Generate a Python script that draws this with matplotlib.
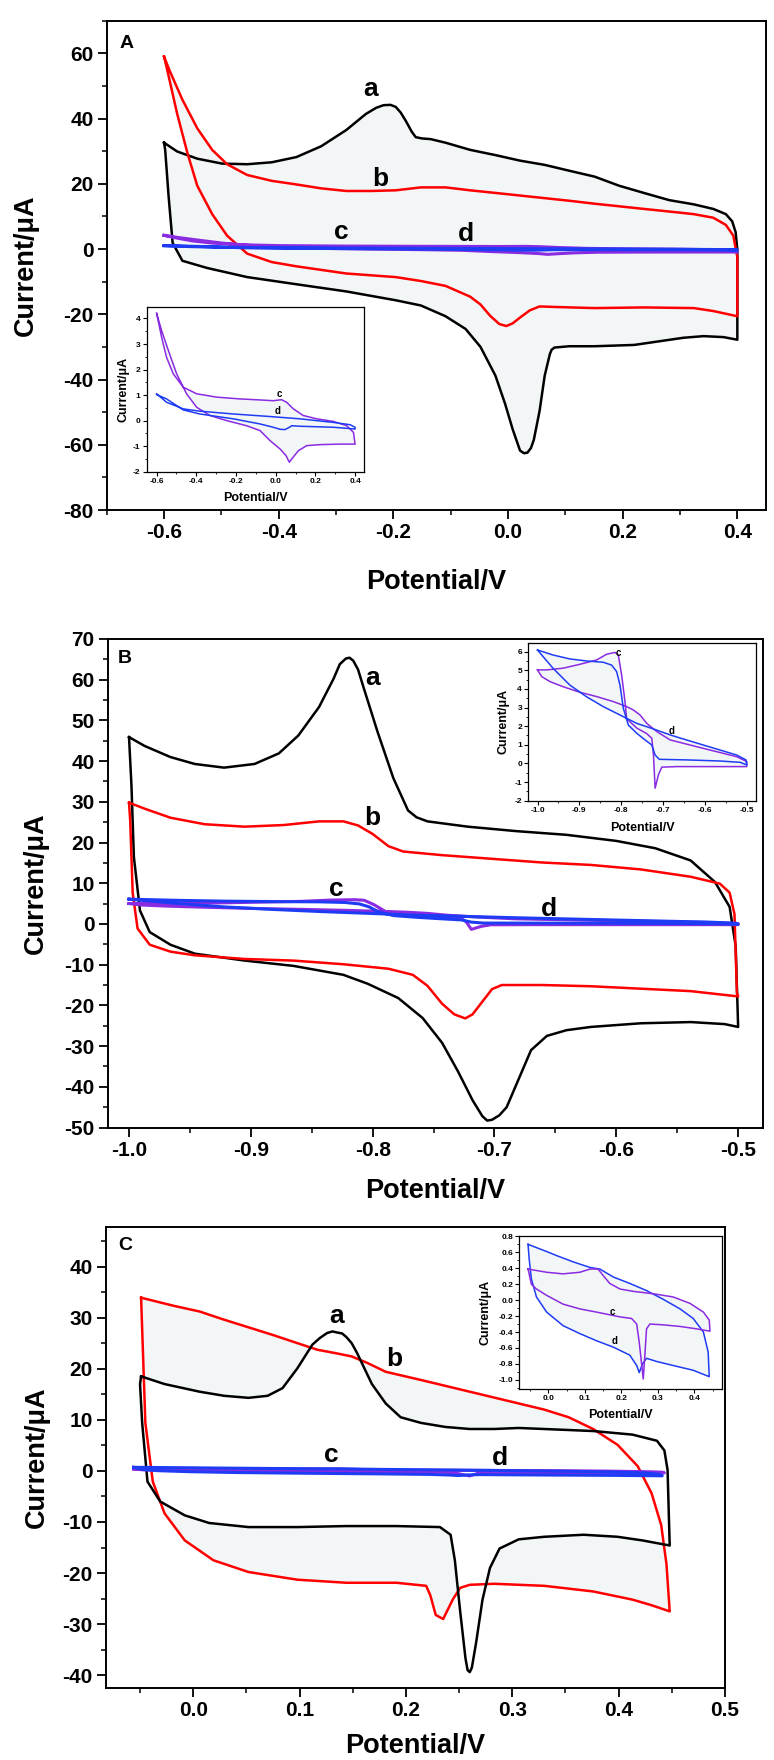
import matplotlib.pyplot as plt
from matplotlib.ticker import MultipleLocator, FuncFormatter

plt.rcParams['font.family'] = ['Liberation Sans', 'DejaVu Sans']
plt.rcParams['font.weight'] = 'bold'
plt.rcParams['axes.unicode_minus'] = False

# ---------------- Panel A (potential in V, current in uA) ----------------
A_a_E = [-0.600, -0.577, -0.542, -0.499, -0.455, -0.412, -0.369, -0.326, -0.282, -0.248,
         -0.230, -0.217, -0.205, -0.196, -0.187, -0.178, -0.168, -0.161, -0.150, -0.135,
         -0.109, -0.066, -0.022, 0.021, 0.064,
         0.107, 0.151, 0.194, 0.237, 0.281, 0.324, 0.358, 0.380, 0.391, 0.397, 0.400, 0.400,
         0.376, 0.341, 0.306, 0.263, 0.220, 0.151, 0.107, 0.081, 0.076, 0.073, 0.064, 0.055,
         0.045, 0.040, 0.034, 0.028, 0.021, 0.008, -0.005, -0.022, -0.048, -0.074, -0.109,
         -0.152, -0.196, -0.282, -0.369, -0.455, -0.525, -0.568, -0.585, -0.592, -0.598, -0.600]
A_a_I = [32.6, 29.9, 27.7, 26.2, 26.0, 26.6, 28.2, 31.5, 36.5, 41.4,
         43.3, 44.1, 44.2, 43.6, 41.8, 39.2, 36.0, 34.3, 33.9, 33.7,
         32.6, 30.4, 28.8, 27.1, 25.8,
         24.0, 22.2, 19.4, 17.2, 15.0, 13.7, 12.3, 10.7, 8.5, 5.2, -0.3, -27.8,
         -27.0, -26.7, -27.2, -28.3, -29.4, -29.8, -29.8, -30.2, -30.9, -32.2, -38.8, -49.7,
         -58.5, -61.0, -62.4, -62.6, -61.8, -55.2, -47.5, -38.8, -30.0, -24.5, -20.6,
         -17.3, -15.7, -13.0, -10.8, -8.6, -5.8, -3.6, 1.9, 16.1, 30.4, 32.6]

A_b_E = [-0.600, -0.590, -0.568, -0.542, -0.516, -0.490, -0.455, -0.412, -0.369, -0.326,
         -0.282, -0.239, -0.196, -0.152, -0.109, -0.066, -0.022, 0.021, 0.064, 0.107,
         0.151, 0.194, 0.237, 0.281, 0.324, 0.358, 0.380, 0.393, 0.400, 0.400,
         0.358, 0.324, 0.237, 0.151, 0.090, 0.055, 0.038, 0.021, 0.008, -0.003, -0.015,
         -0.031, -0.048, -0.066, -0.109, -0.152, -0.196, -0.282, -0.369, -0.412, -0.455,
         -0.490, -0.516, -0.542, -0.559, -0.577, -0.594, -0.600]
A_b_I = [59.0, 54.6, 45.8, 37.0, 30.4, 26.0, 22.7, 20.9, 19.8, 18.6,
         17.8, 17.8, 18.0, 18.9, 18.9, 18.0, 17.2, 16.4, 15.6, 14.8,
         13.9, 13.1, 12.3, 11.5, 10.7, 9.6, 7.4, 4.1, -2.5, -20.6,
         -19.0, -18.1, -17.9, -18.1, -17.8, -17.6, -18.8, -21.0, -22.8, -23.6, -23.0,
         -20.5, -17.0, -14.6, -11.3, -9.8, -8.6, -7.5, -5.3, -4.0, -1.4,
         4.1, 10.7, 19.4, 29.3, 41.4, 54.6, 59.0]

A_c_E = [-0.600, -0.575, -0.550, -0.516, -0.466, -0.398, -0.297, -0.180, -0.079, -0.012,
         0.030, 0.055, 0.089, 0.139, 0.207, 0.291, 0.358, 0.392, 0.400,
         0.324, 0.224, 0.156, 0.114, 0.081, 0.069, 0.052, 0.022, -0.029, -0.079, -0.146,
         -0.247, -0.331, -0.398, -0.449, -0.499, -0.541, -0.575, -0.600]
A_c_I = [4.20, 3.27, 2.48, 1.83, 1.31, 1.05, 0.92, 0.85, 0.81, 0.78,
         0.82, 0.72, 0.46, 0.20, 0.07, -0.03, -0.20, -0.46, -0.92,
         -0.92, -0.94, -0.98, -1.18, -1.50, -1.63, -1.37, -1.11, -0.78, -0.39, -0.20,
         0.00, 0.20, 0.52, 1.05, 1.83, 2.75, 3.53, 4.20]

A_d_E = [-0.600, -0.550, -0.466, -0.382, -0.213, -0.045, 0.123, 0.291, 0.375, 0.400,
         0.400, 0.358, 0.291, 0.207, 0.123, 0.081, 0.069, 0.047, 0.022, -0.012, -0.079,
         -0.213, -0.382, -0.466, -0.550, -0.600]
A_d_I = [1.05, 0.72, 0.46, 0.37, 0.26, 0.17, 0.07, -0.07, -0.16, -0.26,
         -0.33, -0.30, -0.26, -0.24, -0.22, -0.20, -0.26, -0.35, -0.34, -0.26, -0.13,
         0.07, 0.26, 0.42, 0.85, 1.02]

# ---------------- Panel B ----------------
B_a_E = [-1.000, -0.987, -0.966, -0.946, -0.922, -0.897, -0.877, -0.861, -0.844, -0.832,
         -0.827, -0.822, -0.819, -0.816, -0.812, -0.808, -0.796, -0.783, -0.771, -0.764,
         -0.755, -0.722, -0.682, -0.641,
         -0.600, -0.568, -0.539, -0.519, -0.507, -0.502, -0.500,
         -0.511, -0.539, -0.580, -0.621, -0.641, -0.657, -0.670, -0.680, -0.690, -0.696,
         -0.702, -0.706, -0.710, -0.718, -0.730, -0.743, -0.759, -0.779, -0.804, -0.824,
         -0.865, -0.905, -0.946, -0.966, -0.983, -0.991, -0.996, -0.998, -1.000]
B_a_I = [45.9, 43.7, 41.0, 39.3, 38.4, 39.3, 41.9, 46.3, 53.3, 60.3,
         63.8, 65.2, 65.4, 64.7, 62.5, 58.6, 47.2, 35.8, 27.9, 26.2,
         25.2, 23.9, 22.8, 21.9,
         20.4, 18.6, 15.6, 10.3, 4.2, -5.5, -25.3,
         -24.6, -24.1, -24.4, -25.3, -26.1, -27.5, -31.0, -38.0, -45.0, -47.0,
         -48.1, -48.3, -47.2, -43.3, -36.2, -29.2, -23.1, -18.2, -14.7, -12.5,
         -10.3, -9.0, -7.3, -5.1, -2.0, 3.3, 16.4, 34.0, 45.9]

B_b_E = [-1.000, -0.987, -0.966, -0.938, -0.905, -0.873, -0.844, -0.824, -0.812, -0.800,
         -0.787, -0.775, -0.743, -0.702, -0.661, -0.621, -0.580, -0.539, -0.515, -0.507,
         -0.503, -0.501, -0.500,
         -0.539, -0.580, -0.621, -0.661, -0.694, -0.702, -0.710, -0.718, -0.724, -0.733,
         -0.743, -0.755, -0.767, -0.787, -0.824, -0.865, -0.905, -0.946, -0.966, -0.983,
         -0.993, -0.997, -0.999, -1.000]
B_b_I = [29.8, 28.3, 26.1, 24.5, 23.9, 24.3, 25.2, 25.2, 24.2, 22.1,
         19.1, 17.8, 16.9, 16.0, 15.1, 14.5, 13.4, 11.6, 9.9, 7.7,
         2.4, -16.9, -17.8,
         -16.5, -15.9, -15.3, -15.0, -15.0, -16.0, -19.1, -22.2, -23.2, -22.2,
         -19.6, -15.2, -12.5, -11.0, -9.9, -9.0, -8.6, -7.7, -6.8, -5.1,
         -1.1, 7.7, 25.2, 29.8]

B_c_E = [-1.000, -0.978, -0.939, -0.899, -0.859, -0.835, -0.815, -0.807, -0.799, -0.791,
         -0.787, -0.763, -0.739, -0.727, -0.723, -0.719, -0.711, -0.703, -0.667, -0.600,
         -0.500, -0.500, -0.524, -0.604, -0.683, -0.715, -0.739, -0.755, -0.771, -0.787,
         -0.819, -0.859, -0.899, -0.939, -0.970, -0.990, -1.000]
B_c_I = [5.02, 5.02, 5.11, 5.32, 5.55, 5.86, 5.96, 5.82, 4.75, 3.32,
         2.40, 1.90, 1.60, 1.35, 0.45, -1.33, -0.60, -0.20, -0.17, -0.17,
         -0.17, 0.10, 0.36, 0.81, 1.26, 1.71, 2.15, 2.60, 2.87, 3.05,
         3.32, 3.59, 3.82, 4.12, 4.39, 4.66, 5.02]

B_d_E = [-1.000, -0.963, -0.923, -0.883, -0.843, -0.823, -0.811, -0.803, -0.795, -0.783,
         -0.763, -0.743, -0.727, -0.719, -0.709, -0.644, -0.564, -0.516, -0.500,
         -0.502, -0.524, -0.564, -0.604, -0.644, -0.683, -0.723, -0.763, -0.803, -0.843,
         -0.883, -0.923, -0.963, -0.990, -1.000]
B_d_I = [6.09, 5.82, 5.61, 5.50, 5.43, 5.28, 4.93, 4.21, 2.96, 2.06,
         1.62, 1.26, 0.99, 0.45, 0.22, 0.19, 0.13, 0.06, -0.08,
         0.19, 0.45, 0.72, 0.99, 1.26, 1.53, 1.85, 2.15, 2.60, 3.05,
         3.58, 4.21, 5.11, 5.82, 6.09]

# ---------------- Panel C ----------------
C_a_E = [-0.049, -0.027, 0.006, 0.029, 0.052, 0.070, 0.084, 0.098, 0.112, 0.119,
         0.126, 0.131, 0.135, 0.140, 0.144, 0.149, 0.154, 0.168, 0.181, 0.195,
         0.214, 0.237, 0.260, 0.283,
         0.306, 0.330, 0.376, 0.413, 0.436, 0.443, 0.446, 0.448,
         0.422, 0.399, 0.367, 0.330, 0.306, 0.288, 0.279, 0.272, 0.266, 0.262,
         0.260, 0.258, 0.256, 0.251, 0.246, 0.242, 0.232, 0.191, 0.144, 0.098, 0.052, 0.015,
         -0.008, -0.031, -0.043, -0.048, -0.050, -0.049]
C_a_I = [18.5, 17.0, 15.5, 14.7, 14.3, 14.7, 16.2, 20.1, 24.7, 26.0,
         27.0, 27.3, 27.1, 26.9, 26.2, 25.0, 23.1, 17.0, 13.2, 10.5,
         9.4, 8.6, 8.2, 8.2,
         8.4, 8.2, 7.8, 7.1, 5.9, 4.0, 0.2, -14.6,
         -13.6, -12.9, -12.5, -12.9, -13.4, -15.2, -19.0, -25.2, -33.6, -38.5,
         -39.4, -39.0, -36.7, -27.5, -17.5, -12.5, -11.0, -10.8, -10.8, -11.0, -11.0, -10.2,
         -8.7, -6.0, -2.1, 9.4, 17.0, 18.5]

C_b_E = [-0.049, -0.018, 0.006, 0.029, 0.052, 0.075, 0.098, 0.117, 0.135, 0.149,
         0.163, 0.181, 0.214, 0.260, 0.306, 0.330, 0.353, 0.376, 0.399, 0.418,
         0.431, 0.440, 0.445, 0.448,
         0.431, 0.413, 0.376, 0.330, 0.283, 0.260, 0.251, 0.244, 0.235, 0.228,
         0.223, 0.219, 0.191, 0.144, 0.098, 0.052, 0.019, -0.008, -0.027, -0.038,
         -0.045, -0.049]
C_b_I = [33.9, 32.3, 31.2, 29.6, 28.1, 26.6, 25.0, 23.7, 23.0, 22.4,
         21.2, 19.4, 17.8, 15.5, 13.2, 12.0, 10.5, 8.2, 5.1, 0.9,
         -4.4, -10.6, -18.3, -27.5,
         -26.3, -25.2, -23.6, -22.5, -22.1, -22.3, -22.9, -25.2, -29.0, -28.2,
         -24.4, -22.5, -21.9, -21.9, -21.3, -19.8, -17.5, -13.6, -8.3, -2.1,
         9.4, 33.9]

C_c_E = [-0.056, -0.005, 0.040, 0.086, 0.114, 0.136, 0.150, 0.168, 0.196, 0.233,
         0.288, 0.342, 0.388, 0.425, 0.441, 0.443,
         0.406, 0.361, 0.315, 0.278, 0.269, 0.265, 0.260, 0.256, 0.249, 0.242,
         0.228, 0.196, 0.132, 0.086, 0.040, -0.005, -0.033, -0.047, -0.054, -0.056]
C_c_I = [0.39, 0.35, 0.33, 0.35, 0.39, 0.39, 0.31, 0.21, 0.14, 0.11,
         0.08, 0.04, -0.04, -0.15, -0.25, -0.39,
         -0.36, -0.33, -0.31, -0.30, -0.36, -0.65, -0.99, -0.82, -0.53, -0.30,
         -0.23, -0.21, -0.15, -0.11, -0.05, 0.06, 0.14, 0.20, 0.35, 0.39]

C_d_E = [-0.056, -0.005, 0.022, 0.068, 0.114, 0.141, 0.178, 0.223, 0.269, 0.315,
         0.361, 0.397, 0.425, 0.438, 0.441,
         0.397, 0.342, 0.297, 0.269, 0.258, 0.249, 0.242, 0.223, 0.178, 0.132,
         0.086, 0.040, -0.005, -0.033, -0.047, -0.053, -0.056]
C_d_I = [0.70, 0.61, 0.56, 0.48, 0.41, 0.39, 0.29, 0.21, 0.12, 0.01,
         -0.11, -0.23, -0.40, -0.65, -0.96,
         -0.88, -0.82, -0.77, -0.73, -0.80, -0.91, -0.82, -0.69, -0.59, -0.51,
         -0.42, -0.32, -0.15, 0.04, 0.27, 0.52, 0.70]

BLACK = 'black'
RED = '#ff0000'
PURPLE = '#8a2be2'
BLUE = '#1f3cf5'
SHADE = '#f3f6f6'

W, H = 774, 1760
fig = plt.figure(figsize=(W / 100, H / 100), dpi=100)


def box(l, r, t, b):
    return [l / W, 1 - b / H, (r - l) / W, (b - t) / H]


def fmt(nd):
    return FuncFormatter(lambda v, p: f'{round(v, nd) + 0.0:.{nd}f}')


def setup(ax, xlim, ylim, xmaj, ymaj, xnd, ynd, inset=False):
    ax.set_xlim(*xlim)
    ax.set_ylim(*ylim)
    ax.xaxis.set_major_locator(MultipleLocator(xmaj))
    ax.xaxis.set_minor_locator(MultipleLocator(xmaj / 2))
    ax.yaxis.set_major_locator(MultipleLocator(ymaj))
    ax.yaxis.set_minor_locator(MultipleLocator(ymaj / 2))
    ax.xaxis.set_major_formatter(fmt(xnd))
    ax.yaxis.set_major_formatter(fmt(ynd))
    if inset:
        ax.tick_params(which='major', direction='out', length=3, width=0.8, labelsize=6, pad=1.5)
        ax.tick_params(which='minor', direction='out', length=1.5, width=0.6)
        for s in ax.spines.values():
            s.set_linewidth(0.9)
    else:
        ax.tick_params(which='major', direction='out', length=6.5, width=1.3, labelsize=15, pad=3)
        ax.tick_params(which='minor', direction='out', length=3.5, width=1.1)
        for s in ax.spines.values():
            s.set_linewidth(1.4)
    ax.tick_params(which='both', top=False, right=False)


def loop(ax, E, I, color, lw, shade=False):
    if shade:
        ax.fill(E, I, color=SHADE, lw=0, zorder=1)
    ax.plot(E, I, color=color, lw=lw, zorder=3, solid_joinstyle='round')


def main_labels(ax, xl_y, yl_x):
    ax.set_xlabel('Potential/V', fontsize=19.5, fontweight='bold')
    ax.set_ylabel('Current/μA', fontsize=19.5, fontweight='bold')
    ax.xaxis.set_label_coords(0.5, xl_y)
    ax.xaxis.label.set_va('center')
    ax.yaxis.set_label_coords(yl_x, 0.5)
    ax.yaxis.label.set_va('center')


def inset_labels(ax, xl_y, yl_x):
    ax.set_xlabel('Potential/V', fontsize=9, fontweight='bold')
    ax.set_ylabel('Current/μA', fontsize=9, fontweight='bold')
    ax.xaxis.set_label_coords(0.5, xl_y)
    ax.xaxis.label.set_va('center')
    ax.yaxis.set_label_coords(yl_x, 0.5)
    ax.yaxis.label.set_va('center')


curve_font = dict(fontsize=19, fontweight='bold', ha='center', va='center')
small_font = dict(fontsize=7, fontweight='bold', ha='center', va='center')

# ---- Panel A ----
axA = fig.add_axes(box(106.7, 766, 20.7, 510))
setup(axA, (-0.70, 0.45), (-80, 70), 0.2, 20, 1, 0)
loop(axA, A_a_E, A_a_I, BLACK, 1.8, shade=True)
loop(axA, A_b_E, A_b_I, RED, 1.8, shade=True)
loop(axA, A_c_E, A_c_I, PURPLE, 2.2)
loop(axA, A_d_E, A_d_I, BLUE, 2.2)
main_labels(axA, -0.148, -0.122)
axA.text(0.02, 0.954, 'A', transform=axA.transAxes, fontsize=14, fontweight='bold', va='center')
axA.text(-0.239, 49, 'a', **curve_font)
axA.text(-0.222, 21.6, 'b', **curve_font)
axA.text(-0.291, 5.2, 'c', **curve_font)
axA.text(-0.074, 4.6, 'd', **curve_font)

insA = fig.add_axes(box(146.7, 364, 307, 471.7))
setup(insA, (-0.65, 0.445), (-2, 4.45), 0.2, 1, 1, 0, inset=True)
loop(insA, A_c_E, A_c_I, PURPLE, 1.1, shade=True)
loop(insA, A_d_E, A_d_I, BLUE, 1.1)
inset_labels(insA, -0.16, -0.109)
insA.text(0.02, 1.05, 'c', **small_font)
insA.text(0.01, 0.36, 'd', **small_font)

# ---- Panel B ----
axB = fig.add_axes(box(107.7, 762.5, 639, 1127.5))
setup(axB, (-1.0175, -0.48), (-50, 70), 0.1, 10, 1, 0)
loop(axB, B_a_E, B_a_I, BLACK, 1.8)
loop(axB, B_b_E, B_b_I, RED, 1.8)
loop(axB, B_c_E, B_c_I, PURPLE, 2.2)
loop(axB, B_d_E, B_d_I, BLUE, 2.2)
main_labels(axB, -0.130, -0.109)
axB.text(0.016, 0.960, 'B', transform=axB.transAxes, fontsize=14, fontweight='bold', va='center')
axB.text(-0.800, 60.3, 'a', **curve_font)
axB.text(-0.800, 26.1, 'b', **curve_font)
axB.text(-0.830, 8.5, 'c', **curve_font)
axB.text(-0.655, 3.7, 'd', **curve_font)

insB = fig.add_axes(box(528.3, 756, 642.7, 800.7))
setup(insB, (-1.022, -0.478), (-2, 6.48), 0.1, 1, 1, 0, inset=True)
loop(insB, B_c_E, B_c_I, PURPLE, 1.1, shade=True)
loop(insB, B_d_E, B_d_I, BLUE, 1.1, shade=True)
inset_labels(insB, -0.171, -0.111)
insB.text(-0.807, 5.95, 'c', **small_font)
insB.text(-0.679, 1.75, 'd', **small_font)

# ---- Panel C ----
axC = fig.add_axes(box(106, 725, 1226.7, 1688))
setup(axC, (-0.082, 0.5), (-42.5, 47.8), 0.1, 10, 1, 0)
loop(axC, C_b_E, C_b_I, RED, 1.8, shade=True)
axC.fill(C_a_E, C_a_I, color='white', lw=0, zorder=2)
loop(axC, C_a_E, C_a_I, BLACK, 1.8)
loop(axC, C_c_E, C_c_I, PURPLE, 2.2)
loop(axC, C_d_E, C_d_I, BLUE, 2.2)
main_labels(axC, -0.126, -0.111)
axC.text(0.02, 0.960, 'C', transform=axC.transAxes, fontsize=14, fontweight='bold', va='center')
axC.text(0.135, 30.4, 'a', **curve_font)
axC.text(0.189, 22.0, 'b', **curve_font)
axC.text(0.130, 3.2, 'c', **curve_font)
axC.text(0.288, 2.5, 'd', **curve_font)

insC = fig.add_axes(box(519.3, 722, 1236, 1388.6))
setup(insC, (-0.08, 0.476), (-1.11, 0.805), 0.1, 0.2, 1, 1, inset=True)
loop(insC, C_d_E, C_d_I, BLUE, 1.1, shade=True)
loop(insC, C_c_E, C_c_I, PURPLE, 1.1, shade=True)
inset_labels(insC, -0.173, -0.169)
insC.text(0.176, -0.15, 'c', **small_font)
insC.text(0.182, -0.51, 'd', **small_font)

fig.savefig('out.png', dpi=100)
